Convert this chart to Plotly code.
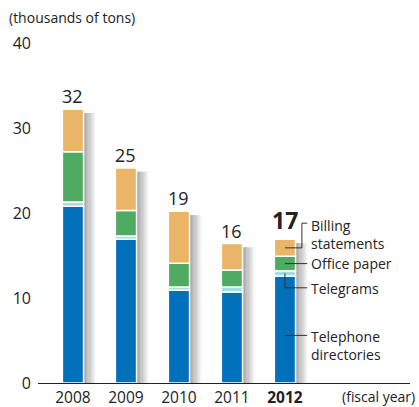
import plotly.graph_objects as go

years = ["2008", "2009", "2010", "2011", "2012"]
directories = [20.8, 16.9, 10.9, 10.7, 12.6]
telegrams = [0.5, 0.4, 0.4, 0.6, 0.6]
office_paper = [5.9, 3.0, 2.8, 2.0, 1.7]
billing = [5.0, 5.0, 6.1, 3.1, 2.0]
total_labels = ["32", "25", "19", "16", "17"]
y_ticks = [0, 10, 20, 30, 40]

series = [
    ("Telephone directories", directories, "#0070BA"),
    ("Telegrams", telegrams, "#A6DBE9"),
    ("Office paper", office_paper, "#4FAA62"),
    ("Billing statements", billing, "#EBB568"),
]

FONT = "Open Sans"
xs = list(range(len(years)))
bar_w = 0.40
totals = [sum(v) for v in zip(directories, telegrams, office_paper, billing)]

fig = go.Figure()

# soft shadow to the right of each bar
n_layers = 12
step = 0.245 / n_layers
for k in range(n_layers):
    g = int(155 + (252 - 155) * (k / (n_layers - 1)) ** 0.9)
    fig.add_trace(go.Bar(
        x=xs, y=[t - 0.45 for t in totals], base=0,
        width=step + 0.005, offset=bar_w / 2 + k * step,
        marker=dict(color=f"rgb({g},{g},{g})", line=dict(width=0)),
        hoverinfo="skip", showlegend=False))

base = [0.0] * len(years)
for name, vals, color in series:
    fig.add_trace(go.Bar(
        x=xs, y=vals, base=list(base), width=bar_w, name=name,
        marker=dict(color=color, line=dict(color="white", width=1.5)),
        showlegend=False))
    base = [b + v for b, v in zip(base, vals)]

# total labels
for i, (t, lab) in enumerate(zip(totals, total_labels)):
    last = i == len(years) - 1
    fig.add_annotation(
        x=i, y=t, text=f"<b>{lab}</b>" if last else lab, showarrow=False,
        yanchor="bottom", yshift=-1 if not last else 1,
        font=dict(family=FONT, size=18, color="#222") if not last
        else dict(family=FONT, size=23, color="#222"))

# leader lines and labels for the last bar
i = len(years) - 1
d, tg, op, bl = directories[i], telegrams[i], office_paper[i], billing[i]
xt = i + 0.42
line = dict(color="#333", width=1)
bill_mid = d + tg + op + bl / 2
off_mid = d + tg + op / 2
tel_mid = d + tg / 2
fig.add_shape(type="path", path=f"M {i} {bill_mid} L {i+0.32} {bill_mid} L {i+0.32} 18.8 L {xt} 18.8", line=line)
fig.add_shape(type="line", x0=i, x1=xt, y0=off_mid, y1=off_mid, line=line)
fig.add_shape(type="path", path=f"M {i} {tel_mid} L {i} 11.2 L {xt} 11.2", line=line)
fig.add_shape(type="line", x0=i, x1=xt, y0=5.6, y1=5.6, line=line)

lab_font = dict(family=FONT, size=14, color="#222")
for txt, yy, anchor, ys in [("Billing<br>statements", 18.85, "top", 9), ("Office paper", 14.05, "middle", 0),
                            ("Telegrams", 11.15, "middle", 0), ("Telephone<br>directories", 6.5, "top", 3)]:
    fig.add_annotation(x=xt + 0.03, y=yy, text=txt, showarrow=False, align="left",
                       xanchor="left", yanchor=anchor, yshift=ys, font=lab_font)

fig.add_annotation(xref="paper", yref="paper", x=-0.082, y=1.075, text="(thousands of tons)",
                   showarrow=False, xanchor="left", yanchor="middle",
                   font=dict(family=FONT, size=14, color="#222"))
fig.add_annotation(xref="paper", yref="paper", x=1.018, y=-0.041, text="(fiscal year)",
                   showarrow=False, xanchor="right", yanchor="middle",
                   font=dict(family=FONT, size=14, color="#222"))

ticktext = years[:-1] + [f"<b>{years[-1]}</b>"]
fig.update_layout(
    width=419, height=407, barmode="overlay",
    margin=dict(l=38, r=9, t=43, b=24),
    plot_bgcolor="white", paper_bgcolor="white",
    font=dict(family=FONT, size=16, color="#222"),
    xaxis=dict(range=[-0.66, 6.36], tickvals=xs, ticktext=ticktext,
               showline=True, linecolor="#222", linewidth=1.2, ticks="",
               showgrid=False, zeroline=False, fixedrange=True, automargin=False,
               ticklabelstandoff=0, tickfont=dict(size=15.5)),
    yaxis=dict(range=[0, 40], tickvals=y_ticks, showgrid=False, zeroline=False,
               showline=False, ticks="", fixedrange=True, automargin=False,
               ticklabelstandoff=6, tickfont=dict(size=16)),
)

fig.write_html("out.html", config={"displayModeBar": False},
               post_script="document.body.style.margin='0';document.body.style.overflow='hidden';")
